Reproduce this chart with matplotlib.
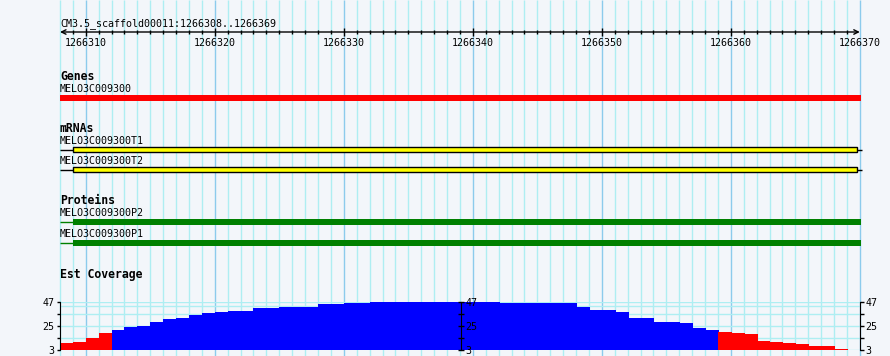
import matplotlib
matplotlib.use('Agg')
import matplotlib.pyplot as plt
from matplotlib.patches import Rectangle

# region shown
ref_name = 'CM3.5_scaffold00011'
start, end = 1266308, 1266369
major_ticks = [1266310, 1266320, 1266330, 1266340, 1266350, 1266360, 1266370]

# features (start, end) in bp
gene = ('MELO3C009300', 1266308, 1266370.1)
mrnas = [('MELO3C009300T1', 1266308, 1266309, 1266369.8),
         ('MELO3C009300T2', 1266308, 1266309, 1266369.8)]
proteins = [('MELO3C009300P2', 1266308, 1266309, 1266370.1),
            ('MELO3C009300P1', 1266308, 1266309, 1266370.1)]

# est coverage, one value per base
coverage = [9.4, 10.3, 14, 18.6, 21.3, 24.1, 25, 28.7, 31.4, 32.3,
            35.1, 37, 37.9, 38.8, 38.8, 41.5, 41.5, 42.4, 42.4, 42.4,
            45.2, 45.2, 46.1, 46.5, 47, 47, 47, 47, 47, 47,
            47, 47, 47, 47, 46.5, 46.5, 46, 46, 46, 46,
            42.8, 39.5, 39.5, 37.9, 32.6, 32.6, 28.7, 28.7, 27.8, 23.2,
            21.3, 19.5, 18.6, 17.7, 11.3, 10.3, 9.4, 8.5, 6.7, 6.7,
            3.9, 3]
cov_min, cov_max = 3, 47
cov_ticks = [3, 14, 25, 36, 47]
cov_ticklabels = ['3', '', '25', '', '47']
cov_grid = [47, 43.4, 36, 25, 14, 3]
threshold = 20

bg = '#f3f6fa'
minor_c = '#aeeef2'
major_c = '#8ccbec'
mono = 'DejaVu Sans Mono'
fs = 7.2
fsb = 8.3

W, H = 890, 356
ppb = 12.9
x0 = start - 60 / ppb
x1 = start + (W - 60) / ppb

fig = plt.figure(figsize=(W / 100, H / 100), dpi=100, facecolor=bg)
ax = fig.add_axes([0, 0, 1, 1])
ax.set_facecolor(bg)
ax.set_xlim(x0, x1)
ax.set_ylim(H, 0)
ax.axis('off')

# vertical grid
for p in range(start, 1266371):
    c = major_c if p % 10 == 0 else minor_c
    ax.vlines(p, 0, H, color=c, lw=1, zorder=0)

# ruler
ax.text(start, 26, f'{ref_name}:{start}..{end}', family=mono, fontsize=fs, va='baseline')
ax.annotate('', xy=(start, 32), xytext=(1266370, 32),
            arrowprops=dict(arrowstyle='<->', lw=1, color='k', mutation_scale=8,
                            shrinkA=0, shrinkB=0))
for p in range(start + 1, 1266370):
    if p % 10 == 0:
        ax.vlines(p, 28, 36, color='k', lw=1)
    else:
        ax.vlines(p, 30, 34, color='k', lw=1)
for p in major_ticks:
    ax.text(p, 46, str(p), family=mono, fontsize=fs, ha='center', va='baseline')

# genes
ax.text(start, 80, 'Genes', family=mono, fontsize=fsb, weight='bold', va='baseline')
ax.text(start, 92, gene[0], family=mono, fontsize=fs, va='baseline')
ax.add_patch(Rectangle((gene[1], 95), gene[2] - gene[1], 6, color='#ff0000', lw=0))

# mrnas
ax.text(start, 132, 'mRNAs', family=mono, fontsize=fsb, weight='bold', va='baseline')
for i, (name, s, cs, ce) in enumerate(mrnas):
    yb = 149.5 + i * 20
    ax.text(start, yb - 5.5, name, family=mono, fontsize=fs, va='baseline')
    ax.hlines(yb, s, cs, color='k', lw=1)
    ax.hlines(yb, ce, 1266370.2, color='k', lw=1)
    ax.add_patch(Rectangle((cs, yb - 2.3), ce - cs, 4.6, facecolor='#ffff00',
                           edgecolor='k', lw=1))

# proteins
ax.text(start, 204, 'Proteins', family=mono, fontsize=fsb, weight='bold', va='baseline')
for i, (name, s, cs, ce) in enumerate(proteins):
    yb = 221.8 + i * 20.8
    ax.text(start, yb - 5.8 if i == 0 else yb - 5.3, name, family=mono, fontsize=fs,
            va='baseline')
    ax.hlines(yb, s, cs, color='#008000', lw=1)
    ax.add_patch(Rectangle((cs, yb - 3), ce - cs, 6, color='#008000', lw=0))

# est coverage
ax.text(start, 278, 'Est Coverage', family=mono, fontsize=fsb, weight='bold', va='baseline')

cax = fig.add_axes([0, (H - 350) / H, 1, 48 / H])
cax.patch.set_alpha(0)
cax.set_xlim(x0, x1)
cax.set_ylim(cov_min, cov_max)
for v in cov_grid:
    cax.hlines(v, start, 1266370, color=minor_c, lw=1, zorder=0)
pos = [start + i for i in range(len(coverage))]
cols = ['#ff0000' if v < threshold else '#0000ff' for v in coverage]
edges = [c if v > cov_min else 'none' for c, v in zip(cols, coverage)]
cax.bar(pos, [v - cov_min for v in coverage], bottom=cov_min, width=1, align='edge',
        color=cols, edgecolor=edges, lw=0.6, antialiased=False, zorder=2)

for sp in ['top', 'bottom', 'right']:
    cax.spines[sp].set_visible(False)
cax.spines['left'].set_position(('data', start))
cax.spines['left'].set_zorder(3)
cax.set_xticks([])
cax.set_yticks(cov_ticks)
cax.set_yticklabels(cov_ticklabels)
cax.tick_params(axis='y', direction='out', length=2.5, width=1, pad=1.5, labelsize=fs)

mid_x = start + (461 - 60) / ppb
for xp, d, ln in [(1266370, 'out', 3), (mid_x, 'inout', 5)]:
    tw = cax.twinx()
    tw.patch.set_alpha(0)
    tw.set_ylim(cov_min, cov_max)
    for sp in ['top', 'bottom', 'left']:
        tw.spines[sp].set_visible(False)
    tw.spines['right'].set_position(('data', xp))
    tw.spines['right'].set_zorder(3)
    tw.set_yticks(cov_ticks)
    tw.set_yticklabels(cov_ticklabels)
    tw.tick_params(axis='y', direction=d, length=ln, width=1, pad=0.8, labelsize=fs)

for a in fig.axes[1:]:
    for lab in a.get_yticklabels():
        lab.set_family(mono)

fig.savefig('out.png', dpi=100, facecolor=bg)
